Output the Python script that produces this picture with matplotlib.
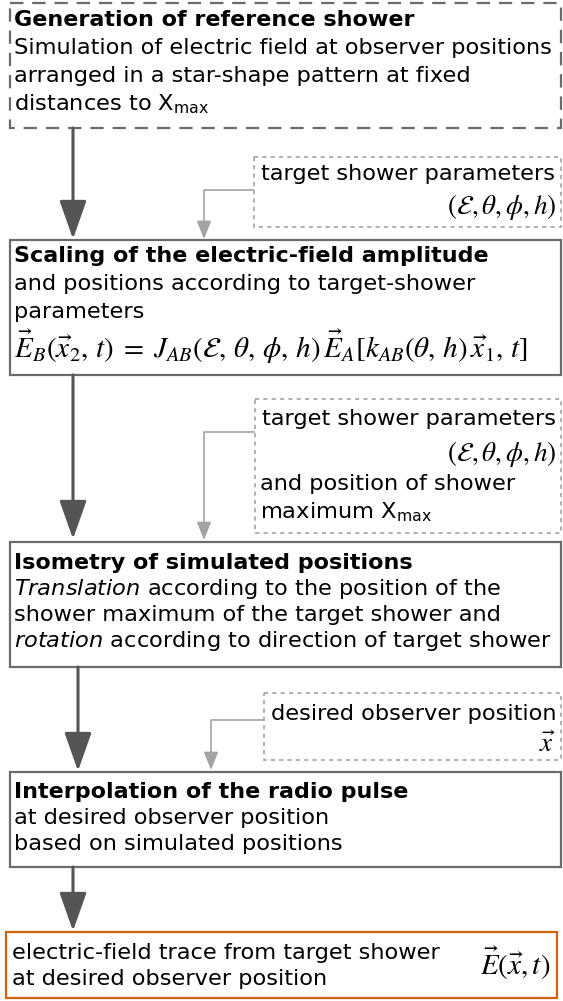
import matplotlib
matplotlib.use('Agg')

import matplotlib.pyplot as plt
from matplotlib.patches import Rectangle

# texts of the flow chart
step_titles = [
    'Generation of reference shower',
    'Scaling of the electric-field amplitude',
    'Isometry of simulated positions',
    'Interpolation of the radio pulse',
]
step_lines = [
    ['Simulation of electric field at observer positions',
     'arranged in a star-shape pattern at fixed',
     r'distances to X$_\mathregular{max}$'],
    ['and positions according to target-shower',
     'parameters'],
    [r'$\mathit{Translation}$ according to the position of the',
     'shower maximum of the target shower and',
     r'$\mathit{rotation}$ according to direction of target shower'],
    ['at desired observer position',
     'based on simulated positions'],
]
scaling_formula = (r'$\vec{E}_B(\vec{x}_2,\, t)\;=\;J_{AB}(\mathcal{E},\, \theta,\, \phi,\, h)\,'
                   r'\vec{E}_A[k_{AB}(\theta,\, h)\,\vec{x}_1,\, t]$')

input_lines = [
    ['target shower parameters'],
    ['target shower parameters'],
    ['desired observer position'],
]
input_formulas = [
    r'$(\mathcal{E}, \theta, \phi, h)$',
    r'$(\mathcal{E}, \theta, \phi, h)$',
    r'$\vec{x}$',
]
input_extra = ['and position of shower', r'maximum X$_\mathregular{max}$']

result_lines = ['electric-field trace from target shower',
                'at desired observer position']
result_formula = r'$\vec{E}(\vec{x}, t)$'

# layout in pixels (y downwards)
W, H = 563, 1001
box_left, box_right = 10, 561
step_boxes = [(3, 128), (240, 375), (542, 667), (772, 867)]
step_baselines = [[26, 54, 82, 110], [262, 290, 318], [569, 595, 621, 647], [798, 824, 850]]
formula_baseline = 358
main_arrows = [(73, 128, 239), (73, 375, 539), (78, 667, 771), (73, 867, 931)]

input_boxes = [(254, 157, 227), (255, 399, 533), (264, 693, 760)]
input_baselines = [[180, 214], [425, 461, 490, 518], [720, 752]]
connectors = [(254, 190, 204, 239), (255, 432, 204, 540), (264, 720, 211, 770)]

result_box = (6, 932, 557, 998)

dark = '#6b6b6b'
arrow_col = '#555555'
light = '#a3a3a3'
orange = '#d4600e'
fs = 16.2
fs_title = 16

fig = plt.figure(figsize=(W / 100, H / 100), dpi=100)
ax = fig.add_axes([0, 0, 1, 1])
ax.set_xlim(0, W)
ax.set_ylim(H, 0)
ax.axis('off')

# main process boxes
for i, (top, bottom) in enumerate(step_boxes):
    ls = (0, (6, 4)) if i == 0 else '-'
    ax.add_patch(Rectangle((box_left, top), box_right - box_left, bottom - top,
                           fill=False, ec=dark, lw=1.6, ls=ls))
    bl = step_baselines[i]
    ax.text(14, bl[0], step_titles[i], fontsize=fs_title, fontweight='bold', va='baseline')
    for line, y in zip(step_lines[i], bl[1:]):
        ax.text(14, y, line, fontsize=fs, va='baseline', math_fontfamily='dejavusans')

ax.text(14, formula_baseline, scaling_formula, fontsize=21, va='baseline',
        math_fontfamily='stix')

# main arrows
for x, y0, y1 in main_arrows:
    ax.annotate('', xy=(x, y1), xytext=(x, y0),
                arrowprops=dict(arrowstyle='-|>,head_length=1.7,head_width=0.6',
                                mutation_scale=14, lw=2.2, color=arrow_col,
                                shrinkA=0, shrinkB=0))

# input boxes with parameters
for i, (left, top, bottom) in enumerate(input_boxes):
    ax.add_patch(Rectangle((left, top), box_right - left, bottom - top,
                           fill=False, ec=light, lw=1.2, ls=(0, (2.5, 2.5))))
    bl = input_baselines[i]
    ax.text(left + 7, bl[0], input_lines[i][0], fontsize=fs, va='baseline')
    ax.text(box_right - 5, bl[1], input_formulas[i], fontsize=19.5, va='baseline',
            ha='right', math_fontfamily='stix')
    if i == 1:
        for line, y in zip(input_extra, bl[2:]):
            ax.text(left + 5, y, line, fontsize=fs, va='baseline',
                    math_fontfamily='dejavusans')

# connectors from input boxes
for x0, y0, x1, y1 in connectors:
    ax.plot([x0, x1], [y0, y0], color=light, lw=1.2, solid_capstyle='butt')
    ax.annotate('', xy=(x1, y1), xytext=(x1, y0),
                arrowprops=dict(arrowstyle='-|>,head_length=1.0,head_width=0.4',
                                mutation_scale=11, lw=1.2, color=light,
                                shrinkA=0, shrinkB=0))

# result box
rl, rt, rr, rb = result_box
ax.add_patch(Rectangle((rl, rt), rr - rl, rb - rt, fill=False, ec=orange, lw=1.6))
ax.text(12, 959, result_lines[0], fontsize=fs, va='baseline')
ax.text(12, 985, result_lines[1], fontsize=fs, va='baseline')
ax.text(550, 975, result_formula, fontsize=21, va='baseline', ha='right',
        math_fontfamily='stix')

fig.savefig('out.png', dpi=100)
